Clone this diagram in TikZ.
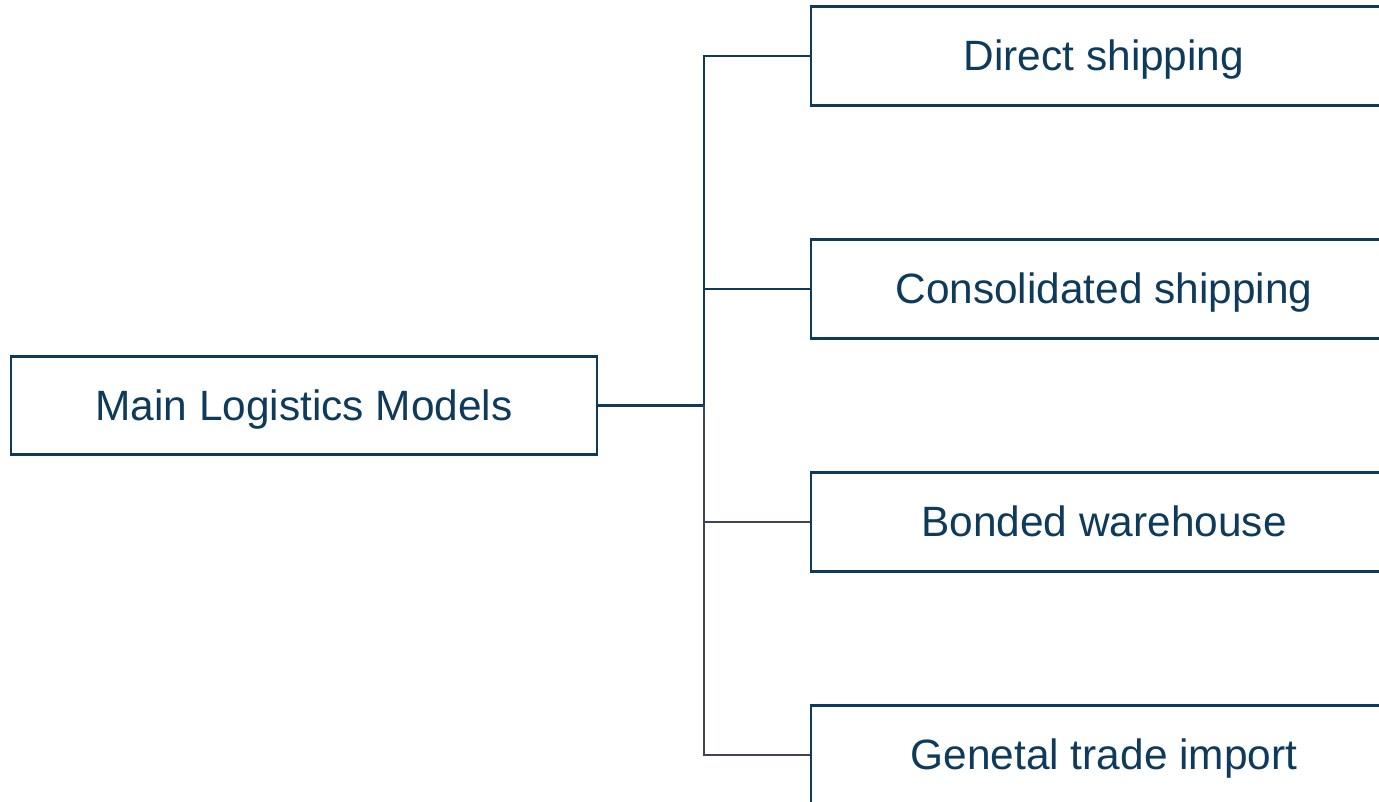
\documentclass[tikz,border=0pt]{standalone}
\usepackage{fontspec}
\setmainfont{Liberation Sans}
\usepackage{tikz}
\usetikzlibrary{calc}

\definecolor{modelblue}{HTML}{0E3A5C}
\definecolor{modelgray}{HTML}{3D4457}

\begin{document}
\begin{tikzpicture}[x=0.75pt,y=-0.75pt,
  modelbox/.style={draw=modelblue,line width=2.2pt,fill=white,text=modelblue,
    minimum width=439.5pt,minimum height=74pt,inner sep=0pt,
    text height=22pt,text depth=0pt,
    font=\fontsize{31.8}{38}\selectfont},
  bluelink/.style={draw=modelblue,line width=2.2pt},
  graylink/.style={draw=modelgray,line width=2.2pt}]
\clip (0,0) rectangle (1379,802);
\fill[white] (0,0) rectangle (1379,802);

\node[modelbox] (main) at (304,405.5) {Main Logistics Models};
\node[modelbox] (direct) at (1104,56) {Direct shipping};
\node[modelbox] (consol) at (1104,289) {Consolidated shipping};
\node[modelbox] (bonded) at (1104,522) {Bonded warehouse};
\node[modelbox] (general) at (1104,755) {Genetal trade import};

\coordinate (trunk) at (704,405.5);

% upper branches
\draw[bluelink] (main.east) -- (trunk);
\draw[bluelink] (trunk) |- (direct.west);
\draw[bluelink] (trunk) |- (consol.west);
% lower branches
\draw[graylink] (trunk) |- (bonded.west);
\draw[graylink] (trunk) |- (general.west);
\end{tikzpicture}
\end{document}
